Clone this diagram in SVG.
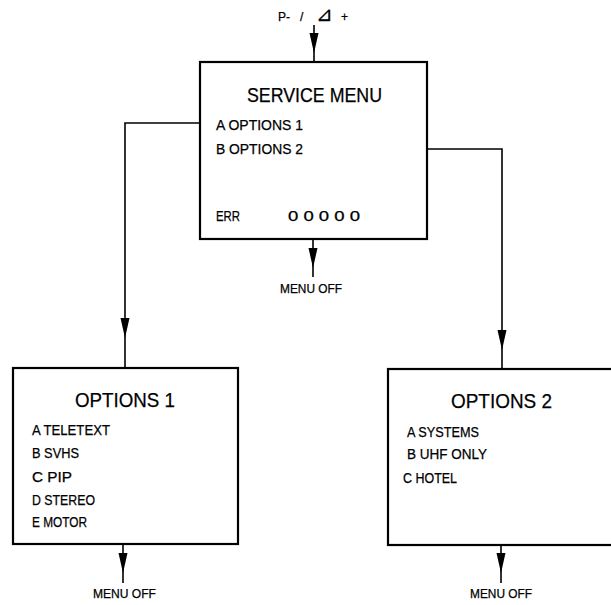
<svg xmlns="http://www.w3.org/2000/svg" xmlns:xlink="http://www.w3.org/1999/xlink" width="611" height="605" viewBox="0 0 611 605">
<style>
.box{fill:#fff;stroke:#000;stroke-width:2.2}
.ln{fill:none;stroke:#000;stroke-width:1.6}
.ah{fill:#000;stroke:none}
text{font-family:"Liberation Sans",Arial,sans-serif;fill:#000;stroke:#000;stroke-width:0.25}
.t1{font-size:21px}
.t2{font-size:14.5px}
.t3{font-size:13px}
.t4{font-size:12px}
</style>
<defs>
<path id="ah" class="ah" d="M-4.5,-20 L4.5,-20 L0,0 Z"/>
</defs>
<rect width="611" height="605" fill="#fff"/>
<g id="connectors">
<line class="ln" x1="314" y1="25" x2="314" y2="62"/>
<use xlink:href="#ah" x="314" y="53"/>
<polyline class="ln" points="200,123 125,123 125,368"/>
<use xlink:href="#ah" x="125" y="338"/>
<polyline class="ln" points="427,149 502,149 502,369"/>
<use xlink:href="#ah" x="502" y="350"/>
<line class="ln" x1="313" y1="239" x2="313" y2="277"/>
<use xlink:href="#ah" x="313" y="268"/>
<line class="ln" x1="123" y1="544" x2="123" y2="583"/>
<use xlink:href="#ah" x="123" y="573"/>
<line class="ln" x1="501" y1="545" x2="501" y2="583"/>
<use xlink:href="#ah" x="501" y="573"/>
</g>
<g id="input-label">
<text class="t4" x="278" y="21">P- <tspan x="300">/</tspan> <tspan x="316" font-family="DejaVu Sans, sans-serif" font-size="20">⊿</tspan><tspan x="341">+</tspan></text>
</g>
<g id="service-menu">
<rect class="box" x="200" y="62" width="227" height="177"/>
<text class="t1" x="247" y="102" textLength="135" lengthAdjust="spacingAndGlyphs">SERVICE MENU</text>
<text class="t2" x="216" y="130" textLength="87" lengthAdjust="spacingAndGlyphs">A OPTIONS 1</text>
<text class="t2" x="216" y="154" textLength="87" lengthAdjust="spacingAndGlyphs">B OPTIONS 2</text>
<text class="t2" x="216" y="221" textLength="24" lengthAdjust="spacingAndGlyphs">ERR</text>
<text class="t2" x="288" y="221" textLength="72" lengthAdjust="spacingAndGlyphs">0 0 0 0 0</text>
</g>
<g id="menu-off-1">
<text class="t3" x="280" y="293" textLength="62" lengthAdjust="spacingAndGlyphs">MENU OFF</text>
</g>
<g id="options-1">
<rect class="box" x="13" y="368" width="225" height="176"/>
<text class="t1" x="75" y="407" textLength="100" lengthAdjust="spacingAndGlyphs">OPTIONS 1</text>
<text class="t2" x="32" y="435" textLength="78" lengthAdjust="spacingAndGlyphs">A TELETEXT</text>
<text class="t2" x="32" y="458" textLength="47" lengthAdjust="spacingAndGlyphs">B SVHS</text>
<text class="t2" x="32" y="482" textLength="40" lengthAdjust="spacingAndGlyphs">C PIP</text>
<text class="t2" x="32" y="505" textLength="63" lengthAdjust="spacingAndGlyphs">D STEREO</text>
<text class="t2" x="32" y="527" textLength="55" lengthAdjust="spacingAndGlyphs">E MOTOR</text>
</g>
<g id="menu-off-2">
<text class="t3" x="93" y="598" textLength="63" lengthAdjust="spacingAndGlyphs">MENU OFF</text>
</g>
<g id="options-2">
<rect class="box" x="388" y="369" width="230" height="176"/>
<text class="t1" x="451" y="408" textLength="101" lengthAdjust="spacingAndGlyphs">OPTIONS 2</text>
<text class="t2" x="407" y="437" textLength="72" lengthAdjust="spacingAndGlyphs">A SYSTEMS</text>
<text class="t2" x="407" y="459" textLength="80" lengthAdjust="spacingAndGlyphs">B UHF ONLY</text>
<text class="t2" x="403" y="483" textLength="54" lengthAdjust="spacingAndGlyphs">C HOTEL</text>
</g>
<g id="menu-off-3">
<text class="t3" x="470" y="598" textLength="62" lengthAdjust="spacingAndGlyphs">MENU OFF</text>
</g>
</svg>
